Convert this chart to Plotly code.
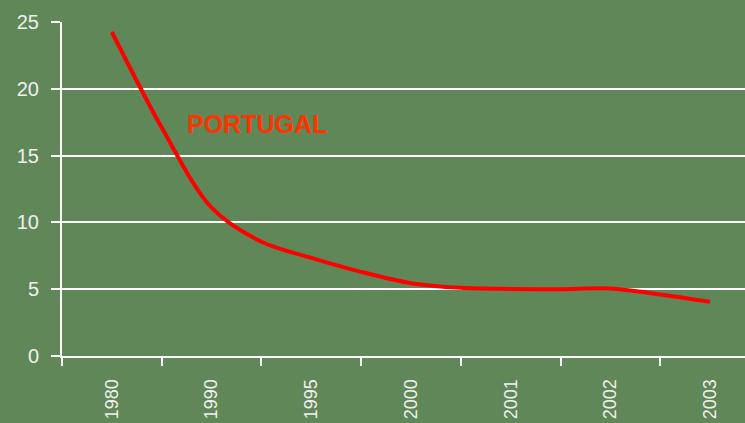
import plotly.graph_objects as go

# category labels on the x axis
years = ["1980", "1990", "1995", "2000", "2001", "2002", "2003"]

positions = [0, 0.5, 1, 1.5, 2, 2.5, 3, 3.5, 4, 4.5, 5, 5.5, 6]
values = [24.25, 17.1, 11.1, 8.55, 7.35, 6.3, 5.45, 5.1, 5.02, 5.0, 5.05, 4.6, 4.05]

bg = "#608757"
txt = "#f0f0f0"

fig = go.Figure()
fig.add_trace(go.Scatter(
    x=positions, y=values, mode="lines",
    line=dict(color="#ff0000", width=4, shape="spline", smoothing=0.9),
    hoverinfo="skip",
))

fig.add_annotation(
    x=0.73, y=17.4, xref="x", yref="y", xanchor="left", yanchor="middle",
    text="<b>PORTUGAL</b>", showarrow=False,
    font=dict(family="Liberation Sans, Arial", size=25, color="#ff3300"),
)

fig.update_layout(
    width=745, height=423,
    paper_bgcolor=bg, plot_bgcolor=bg,
    margin=dict(l=62, r=0, t=22, b=67),
    showlegend=False,
    font=dict(family="Liberation Sans, Arial", color=txt),
)

fig.update_xaxes(
    range=[-0.5, 6.35], automargin=False,
    tickvals=list(range(len(years))), ticktext=years, tickangle=-90,
    ticks="", ticklabelstandoff=14, tickfont=dict(size=18, color=txt),
    showgrid=False, zeroline=False,
    showline=True, linecolor="white", linewidth=2,
    minor=dict(tickvals=[i - 0.5 for i in range(len(years) + 1)],
               ticks="outside", ticklen=8, tickcolor="white", tickwidth=2,
               showgrid=False),
)

fig.update_yaxes(
    range=[0, 25], dtick=5, automargin=False,
    ticks="outside", ticklen=9, tickcolor="white", tickwidth=2,
    ticklabelstandoff=8, tickfont=dict(size=20, color=txt),
    showgrid=True, gridcolor="white", gridwidth=1.5,
    zeroline=False, showline=True, linecolor="white", linewidth=2,
)

fig.write_html(
    "out.html",
    config={"displayModeBar": False},
    post_script="document.body.style.margin='0';document.body.style.overflow='hidden';",
)
